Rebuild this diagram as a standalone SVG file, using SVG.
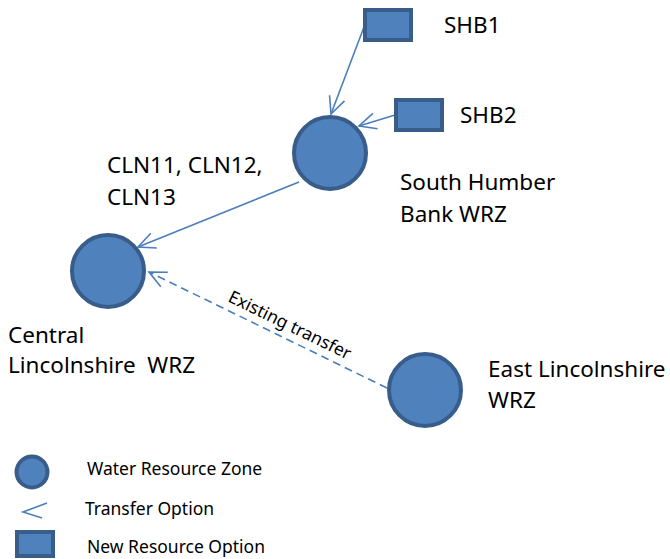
<svg xmlns="http://www.w3.org/2000/svg" width="670" height="559" viewBox="0 0 670 559">
<style>
.zone{fill:#4f81bd;stroke:#385d8a;stroke-width:4}
.opt{fill:#4f81bd;stroke:#385d8a;stroke-width:4}
.conn{fill:none;stroke:#4a7ebb;stroke-width:1.6}
.dash{stroke-dasharray:8,5}
text{font-family:"Noto Sans","Liberation Sans",sans-serif;fill:#000}
.lbl{font-size:22.5px}
.leg{font-size:17.5px}
.ex{font-size:17.5px}
</style>
<defs>
<marker id="arr" markerUnits="userSpaceOnUse" markerWidth="24" markerHeight="24" refX="0" refY="0" viewBox="-20 -12 24 24" orient="auto">
<path d="M-17,-8 L0,0 L-17,8" fill="none" stroke="#4a7ebb" stroke-width="1.6"/>
</marker>
</defs>
<rect width="670" height="559" fill="#fff"/>
<g id="connectors">
<line class="conn" x1="364" y1="27" x2="331" y2="114" marker-end="url(#arr)"/>
<line class="conn" x1="395" y1="115" x2="359" y2="126" marker-end="url(#arr)"/>
<line class="conn" x1="299" y1="182" x2="138" y2="247" marker-end="url(#arr)"/>
<line class="conn dash" x1="387" y1="388" x2="149" y2="272" marker-end="url(#arr)"/>
<text class="ex" transform="translate(227,301) rotate(26)">Existing transfer</text>
</g>
<g id="shb1">
<rect class="opt" x="365" y="10" width="46" height="30"/>
<text class="lbl" x="444" y="33">SHB1</text>
</g>
<g id="shb2">
<rect class="opt" x="396" y="100" width="46" height="30"/>
<text class="lbl" x="460" y="123">SHB2</text>
</g>
<g id="south-humber">
<circle class="zone" cx="330" cy="153" r="36"/>
<text class="lbl" x="400" y="190">South Humber</text>
<text class="lbl" x="400" y="222">Bank WRZ</text>
</g>
<text class="lbl" x="107" y="173">CLN11, CLN12,</text>
<text class="lbl" x="107" y="205">CLN13</text>
<g id="central">
<circle class="zone" cx="108" cy="271" r="36"/>
<text class="lbl" x="8" y="343">Central</text>
<text class="lbl" x="8" y="373" xml:space="preserve">Lincolnshire  WRZ</text>
</g>
<g id="east">
<circle class="zone" cx="425" cy="390" r="36"/>
<text class="lbl" x="488" y="377">East Lincolnshire</text>
<text class="lbl" x="488" y="408">WRZ</text>
</g>
<g id="legend">
<circle class="zone" cx="32" cy="472" r="15.5"/>
<text class="leg" x="87" y="475">Water Resource Zone</text>
<path d="M47,503 L23,512 L42,518" fill="none" stroke="#4a7ebb" stroke-width="1.6"/>
<text class="leg" x="85" y="515">Transfer Option</text>
<rect class="opt" x="17" y="532" width="36" height="24"/>
<text class="leg" x="87" y="553">New Resource Option</text>
</g>
</svg>
